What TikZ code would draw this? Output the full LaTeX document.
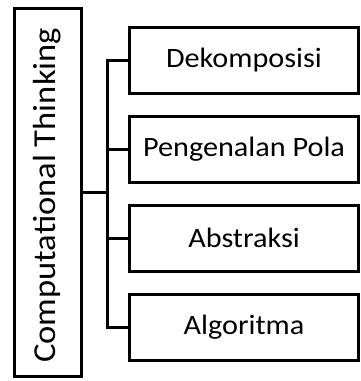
\documentclass[tikz,border=0pt]{standalone}
\usepackage{fontspec}
\setmainfont{Carlito}
\usetikzlibrary{positioning,calc}

\begin{document}
\begin{tikzpicture}[
  x=1pt, y=1pt,
  node distance=20pt,
  box/.style={draw=black, line width=3pt, align=center, inner sep=0pt, text=black, font=\fontsize{28}{33}\selectfont},
  part/.style={box, minimum width=229pt, minimum height=66pt},
  conn/.style={black, line width=3pt},
]
\useasboundingbox (0,0) rectangle (361,-381);
% ---- main concept ----
\node[box, minimum width=67pt, minimum height=368pt] (ct) at (48,-192.5) {};
\node[rotate=90, anchor=west, inner sep=0pt, text=black, font=\fontsize{32}{38}\selectfont] (ctlab) at ($(ct.south)+(-1pt,15pt)$) {\scalebox{1.08}[1]{Computational Thinking}};
% ---- parts ----
\node[part] (dek) at (244,-60) {\scalebox{1.08}[1]{Dekomposisi}};
\node[part, below=of dek] (pol) {\scalebox{1.08}[1]{Pengenalan Pola}};
\node[part, below=of pol] (abs) {\scalebox{1.08}[1]{Abstraksi}};
\node[part, below=of abs] (alg) {\scalebox{1.08}[1]{Algoritma}};
% ---- connectors ----
\coordinate (bus) at ($(ct.east)+(24pt,0)$);
\draw[conn] (ct.east) -- (bus);
\draw[conn] (dek.west) -| (bus) |- (alg.west);
\draw[conn] (bus |- pol.west) -- (pol.west);
\draw[conn] (bus |- abs.west) -- (abs.west);
\end{tikzpicture}
\end{document}
